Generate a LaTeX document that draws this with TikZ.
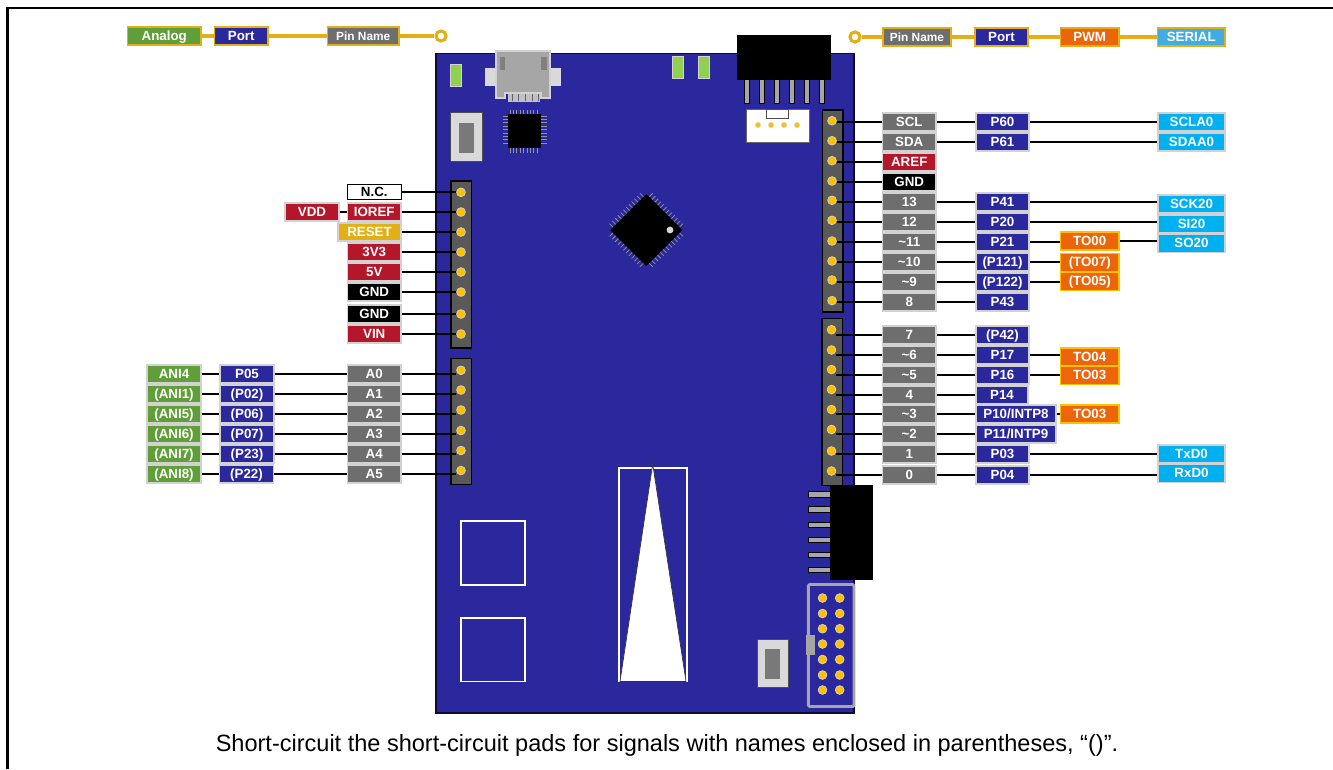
\documentclass[tikz,border=0pt]{standalone}
\usepackage{fontspec}
\setmainfont{Liberation Sans}
\definecolor{boardc}{HTML}{2A289C}
\definecolor{edgec}{HTML}{D2D2D2}
\definecolor{grayc}{HTML}{6E6E6E}
\definecolor{redc}{HTML}{B5172A}
\definecolor{greenc}{HTML}{5F9E38}
\definecolor{goldc}{HTML}{E2B016}
\definecolor{orangec}{HTML}{EC650A}
\definecolor{cyanc}{HTML}{00B0F0}
\definecolor{skyc}{HTML}{42ACE0}
\definecolor{pinc}{HTML}{FFC000}
\definecolor{headc}{HTML}{595959}
\definecolor{metalc}{HTML}{A6A6A6}
\definecolor{lightc}{HTML}{D9D9D9}
\definecolor{ledc}{HTML}{92D050}
\tikzset{
  x=0.75pt,y=-0.75pt,
  lab/.style={draw=edgec,line width=1.1pt,inner sep=0pt,text=white,
    font=\fontsize{10}{12}\selectfont\bfseries,align=center,text height=7.6pt,text depth=1pt},
  gy/.style={lab,fill=grayc},
  pt/.style={lab,fill=boardc},
  rd/.style={lab,fill=redc},
  bk/.style={lab,fill=black},
  gn/.style={lab,fill=greenc},
  or/.style={lab,fill=orangec,draw=pinc},
  cy/.style={lab,fill=cyanc},
  ye/.style={lab,fill=goldc},
  nc/.style={lab,fill=white,text=black,draw=black,line width=0.7pt},
  leg/.style={draw=goldc},
  wire/.style={draw=black,line width=0.95pt},
  lgwire/.style={draw=goldc,line width=2.3pt},
  ringnode/.style={circle,draw=goldc,fill=white,line width=2.3pt,minimum size=7.6pt,inner sep=0pt},
  pinnode/.style={circle,fill=pinc,draw=edgec,line width=0.5pt,minimum size=6.6pt,inner sep=0pt},
  smallpin/.style={circle,fill=pinc,draw=edgec,line width=0.4pt,minimum size=4pt,inner sep=0pt},
  header/.style={fill=headc,draw=black,line width=0.8pt},
  led/.style={fill=ledc,draw=edgec,line width=0.6pt},
  lead/.style={fill=metalc,draw=black,line width=0.6pt},
  chiplead/.style={draw=gray!85!white,line width=0.55pt},
  pad/.style={draw=white,line width=1.2pt},
}
% \lab{name}{x0}{x1}{yc}{style}{text}
\newcommand{\lab}[6]{\node[minimum width={(#3-#2)*0.75pt},minimum height=13.5pt,#5] (#1) at ({(#2+#3)/2},#4) {#6};}
\newcommand{\hw}[2]{\draw[wire] (#1.east) -- (#1.east -| #2.west);}
\newcommand{\hwl}[2]{\draw[wire] (#1.west) -- (#1.west -| #2.east);}
\begin{document}
\begin{tikzpicture}
\useasboundingbox (0,0) rectangle (1333,769);
\fill[white] (0,0) rectangle (1333,769);
% frame
\draw[black,line width=1.6pt] (7.5,769) -- (7.5,8) -- (1333,8);
% board
\draw[fill=boardc,draw=black!70!boardc,line width=0.9pt] (436,53.5) rectangle (854,713);
% LEDs
\draw[led] (450.5,64.5) rectangle (461,86);
\draw[led] (672,56.5) rectangle (683,78);
\draw[led] (698,56.5) rectangle (709,78);
% USB
\fill[lightc] (485,68) rectangle (561,86);
\fill[metalc!70!white] (508,92) rectangle (540,101.5);
\foreach \x in {512,518,525,532,538}{\draw[metalc!60!black,line width=0.4pt] (\x,93) -- (\x,101);}
\draw[fill=metalc,draw=edgec,line width=0.9pt] (496,51) -- (550,51) -- (550,98) -- (541,98) -- (541,93) -- (505,93) -- (505,98) -- (496,98) -- cycle;
\fill[gray] (500,57) rectangle (505,70);
\fill[gray] (541,57) rectangle (547,70);
% switches
\draw[fill=lightc,draw=black!70,line width=0.7pt] (450.5,112.5) rectangle (482,161);
\fill[gray!95!black] (459,123) rectangle (474,153);
\draw[fill=lightc,draw=black!70,line width=0.7pt] (757,639) rectangle (788,687);
\fill[gray!95!black] (765,649) rectangle (780,679);
% small chip
\foreach \i in {0,...,8}{
  \draw[chiplead] ({510+3.4*\i},110) -- ({510+3.4*\i},114);
  \draw[chiplead] ({510+3.4*\i},147) -- ({510+3.4*\i},153);
  \draw[chiplead] (503,{116+3.4*\i}) -- (508,{116+3.4*\i});
  \draw[chiplead] (541,{116+3.4*\i}) -- (547,{116+3.4*\i});
}
\fill[black] (508,114) rectangle (541,147.5);
% main chip
\begin{scope}[shift={(646.3,230)},rotate=45]
  \foreach \i in {-5.5,-4.5,...,5.5}{
    \draw[chiplead] ({3.9*\i},-25) -- ({3.9*\i},-30.5);
    \draw[chiplead] ({3.9*\i},25) -- ({3.9*\i},30.5);
    \draw[chiplead] (-25,{3.9*\i}) -- (-30.5,{3.9*\i});
    \draw[chiplead] (25,{3.9*\i}) -- (30.5,{3.9*\i});
  }
  \fill[black] (-25.5,-25.5) rectangle (25.5,25.5);
\end{scope}
\fill[lightc] (670,230) circle[radius=3.4];
% top black connector
\foreach \x in {746.7,762,777,792,807,822}{\draw[lead] ({\x-2.8},78) rectangle ({\x+2.8},103);}
\fill[black] (737,34.5) rectangle (831,80);
% white connector
\draw[fill=white,draw=black!60,line width=0.6pt] (746,109) rectangle (809.5,142.5);
\draw[fill=white,draw=black!70,line width=0.6pt] (766.5,109) rectangle (788,118.5);
\foreach \x in {758,771,784,797}{\node[smallpin] at (\x,125) {};}
% right black connector
\foreach \y in {494.3,509.5,524.7,540,555,570}{\draw[lead] (808.5,{\y-2.7}) rectangle (832,{\y+2.7});}
\fill[black] (830,485) rectangle (873,580);
% JTAG
\draw[metalc,line width=2.2pt,rounded corners=1pt] (808.3,584.5) rectangle (854,706.5);
\fill[metalc] (806,635) rectangle (815,655);
\foreach \y in {598,613.5,628.7,644,659.5,675,690}{
  \node[pinnode] at (822.5,\y) {};
  \node[pinnode] at (839.7,\y) {};
}
% pads
\draw[pad] (461,521) rectangle (525,585);
\draw[pad] (461,618) rectangle (525,681.5);
\draw[pad] (619,468) rectangle (687,681.5);
\draw[fill=white,draw=black!80,line width=0.5pt] (652.7,464) -- (686,681.5) -- (620,681.5) -- cycle;
% headers
\draw[header] (451,181) rectangle (471.5,348);
\draw[header] (451,358.5) rectangle (471.5,484.5);
\draw[header] (822.5,110) rectangle (843,312);
\draw[header] (822,318.5) rectangle (842.5,485.5);
% pins
\foreach \n/\y in {1/192.3,2/212,3/232,4/252,5/272,6/292,7/314,8/334}{\node[pinnode] (la\n) at (461,\y) {};}
\foreach \n/\y in {1/370.3,2/390,3/410,4/430.5,5/450.5,6/470.5}{\node[pinnode] (lb\n) at (461,\y) {};}
\foreach \n/\y in {1/120.7,2/140.7,3/160.7,4/181,5/200.3,6/220.3,7/241,8/261,9/280,10/300.6}{\node[pinnode] (ra\n) at (832,\y) {};}
\foreach \n/\y in {1/329.7,2/350,3/369.5,4/389.5,5/409.5,6/429.5,7/451,8/471}{\node[pinnode] (rb\n) at (831.5,\y) {};}
% legend
\node[ringnode] (lgl) at (441,36) {};
\node[ringnode] (lgr) at (855,37) {};
\lab{lAn}{127.5}{201}{36}{gn,leg}{Analog}
\lab{lPo}{214.5}{268}{36}{pt,leg}{Port}
\lab{lPi}{327.5}{399}{36}{gy,leg,font=\fontsize{8.9}{11}\selectfont\bfseries}{Pin Name}
\draw[lgwire] (lAn) -- (lPo);
\draw[lgwire] (lPo) -- (lPi);
\draw[lgwire] (lPi) -- (lgl);
\lab{rPi}{883}{951}{37}{gy,leg,font=\fontsize{8.9}{11}\selectfont\bfseries}{Pin Name}
\lab{rPo}{975}{1028}{37}{pt,leg}{Port}
\lab{rPw}{1060.5}{1119}{37}{or,leg}{PWM}
\lab{rSe}{1157.5}{1225}{37}{lab,fill=skyc,leg}{SERIAL}
\draw[lgwire] (lgr) -- (rPi);
\draw[lgwire] (rPi) -- (rPo);
\draw[lgwire] (rPo) -- (rPw);
\draw[lgwire] (rPw) -- (rSe);
% left power
\lab{nc}{347.5}{401}{192}{nc,minimum height=10.8pt,text height=7pt,text depth=1pt}{N.C.}
\lab{ioref}{347.5}{401}{212}{rd}{IOREF}
\lab{vdd}{285}{339}{212}{rd}{VDD}
\lab{reset}{338}{401}{232}{ye}{RESET}
\lab{v33}{347.5}{401}{252}{rd}{3V3}
\lab{v5}{347.5}{401}{272}{rd}{5V}
\lab{gnda}{347.5}{401}{292}{bk}{GND}
\lab{gndb}{347.5}{401}{314}{bk}{GND}
\lab{vin}{347.5}{401}{334}{rd}{VIN}
\hw{nc}{la1}\hw{ioref}{la2}\hw{reset}{la3}\hw{v33}{la4}\hw{v5}{la5}\hw{gnda}{la6}\hw{gndb}{la7}\hw{vin}{la8}
\draw[wire] (vdd) -- (ioref);
% left analog
\foreach \i/\y/\an/\po/\poa/\pob/\aa in {
  0/374/ANI4/P05/220/274/A0,
  1/394/(ANI1)/(P02)/220/274/A1,
  2/414/(ANI5)/(P06)/220/274/A2,
  3/434/(ANI6)/(P07)/220/274/A3,
  4/454/(ANI7)/(P23)/220/274/A4,
  5/474/(ANI8)/(P22)/219.5/273.5/A5}{
  \pgfmathtruncatemacro{\pn}{\i+1}
  \lab{an\i}{147}{201}{\y}{gn}{\an}
  \lab{pa\i}{\poa}{\pob}{\y}{pt}{\po}
  \lab{aa\i}{347.5}{401}{\y}{gy}{\aa}
  \draw[wire] (an\i) -- (pa\i);
  \draw[wire] (pa\i) -- (aa\i);
  \draw[wire] (aa\i.east) -- (aa\i.east -| lb\pn.west);
}
% right upper
\lab{scl}{882.5}{936}{122}{gy}{SCL}
\lab{sda}{882.5}{936}{142}{gy}{SDA}
\lab{aref}{882.5}{936}{162}{rd}{AREF}
\lab{gndc}{882.5}{936}{182}{bk}{GND}
\lab{d13}{882.5}{936}{202}{gy}{13}
\lab{d12}{882.5}{936}{222}{gy}{12}
\lab{d11}{882.5}{936}{242}{gy}{\char`~11}
\lab{d10}{882.5}{936}{262}{gy}{\char`~10}
\lab{d9}{882.5}{936}{282}{gy}{\char`~9}
\lab{d8}{882.5}{936}{302}{gy}{8}
\hwl{scl}{ra1}\hwl{sda}{ra2}\hwl{aref}{ra3}\hwl{gndc}{ra4}\hwl{d13}{ra5}\hwl{d12}{ra6}\hwl{d11}{ra7}\hwl{d10}{ra8}\hwl{d9}{ra9}\hwl{d8}{ra10}
\lab{p60}{976}{1029}{122}{pt}{P60}
\lab{p61}{976}{1029}{142}{pt}{P61}
\lab{p41}{976}{1029}{202}{pt}{P41}
\lab{p20}{976}{1029}{222}{pt}{P20}
\lab{p21}{976}{1029}{242}{pt}{P21}
\lab{p121}{976}{1029}{262}{pt}{(P121)}
\lab{p122}{976}{1029}{282}{pt}{(P122)}
\lab{p43}{976}{1029}{302}{pt}{P43}
\foreach \a/\b in {scl/p60,sda/p61,d13/p41,d12/p20,d11/p21,d10/p121,d9/p122,d8/p43}{\draw[wire] (\a) -- (\b);}
\lab{to00}{1060.5}{1119}{241}{or}{TO00}
\lab{to07}{1060.5}{1119}{262.5}{or}{(TO07)}
\lab{to05}{1060.5}{1119}{281.5}{or}{(TO05)}
\foreach \a/\b in {p21/to00,p121/to07,p122/to05}{\draw[wire] (\a.east) -- (\a.east -| \b.west);}
\lab{scla}{1158}{1225}{122}{cy}{SCLA0}
\lab{sdaa}{1158}{1225}{142}{cy}{SDAA0}
\lab{sck}{1158}{1225}{204}{cy}{SCK20}
\lab{si}{1158}{1225}{224}{cy}{SI20}
\lab{so}{1158}{1225}{243.5}{cy}{SO20}
\foreach \a/\b in {p60/scla,p61/sdaa,p41/sck,p20/si,to00/so}{\draw[wire] (\a.east) -- (\a.east -| \b.west);}
% right lower
\lab{d7}{882.5}{936}{335}{gy}{7}
\lab{d6}{882.5}{936}{355}{gy}{\char`~6}
\lab{d5}{882.5}{936}{375}{gy}{\char`~5}
\lab{d4}{882.5}{936}{395}{gy}{4}
\lab{d3}{882.5}{936}{414}{gy}{\char`~3}
\lab{d2}{882.5}{936}{434}{gy}{\char`~2}
\lab{d1}{882.5}{936}{454}{gy}{1}
\lab{d0}{882.5}{936}{475}{gy}{0}
\hwl{d7}{rb1}\hwl{d6}{rb2}\hwl{d5}{rb3}\hwl{d4}{rb4}\hwl{d3}{rb5}\hwl{d2}{rb6}\hwl{d1}{rb7}\hwl{d0}{rb8}
\lab{p42}{976}{1029}{335}{pt}{(P42)}
\lab{p17}{976}{1029}{355}{pt}{P17}
\lab{p16}{976}{1029}{375}{pt}{P16}
\lab{p14}{976}{1028}{395}{pt}{P14}
\lab{p10}{976}{1056}{414}{pt}{P10/INTP8}
\lab{p11}{976}{1056}{434}{pt}{P11/INTP9}
\lab{p03}{976}{1029}{454}{pt}{P03}
\lab{p04}{976}{1029}{475}{pt}{P04}
\foreach \a/\b in {d7/p42,d6/p17,d5/p16,d4/p14,d3/p10,d2/p11,d1/p03,d0/p04}{\draw[wire] (\a) -- (\b);}
\lab{to04}{1060.5}{1119}{357}{or}{TO04}
\lab{to03}{1060.5}{1119}{375.5}{or}{TO03}
\lab{to03b}{1060.5}{1119}{414}{or}{TO03}
\foreach \a/\b in {p17/to04,p16/to03,p10/to03b}{\draw[wire] (\a.east) -- (\a.east -| \b.west);}
\lab{txd}{1158}{1225}{454}{cy}{TxD0}
\lab{rxd}{1158}{1225}{473.5}{cy}{RxD0}
\foreach \a/\b in {p03/txd,p04/rxd}{\draw[wire] (\a.east) -- (\a.east -| \b.west);}
% caption
\node[font=\fontsize{17.65}{21}\selectfont,text=black,inner sep=0pt] (cap) at (667,745) {Short-circuit the short-circuit pads for signals with names enclosed in parentheses, “()”.};
\end{tikzpicture}
\end{document}
